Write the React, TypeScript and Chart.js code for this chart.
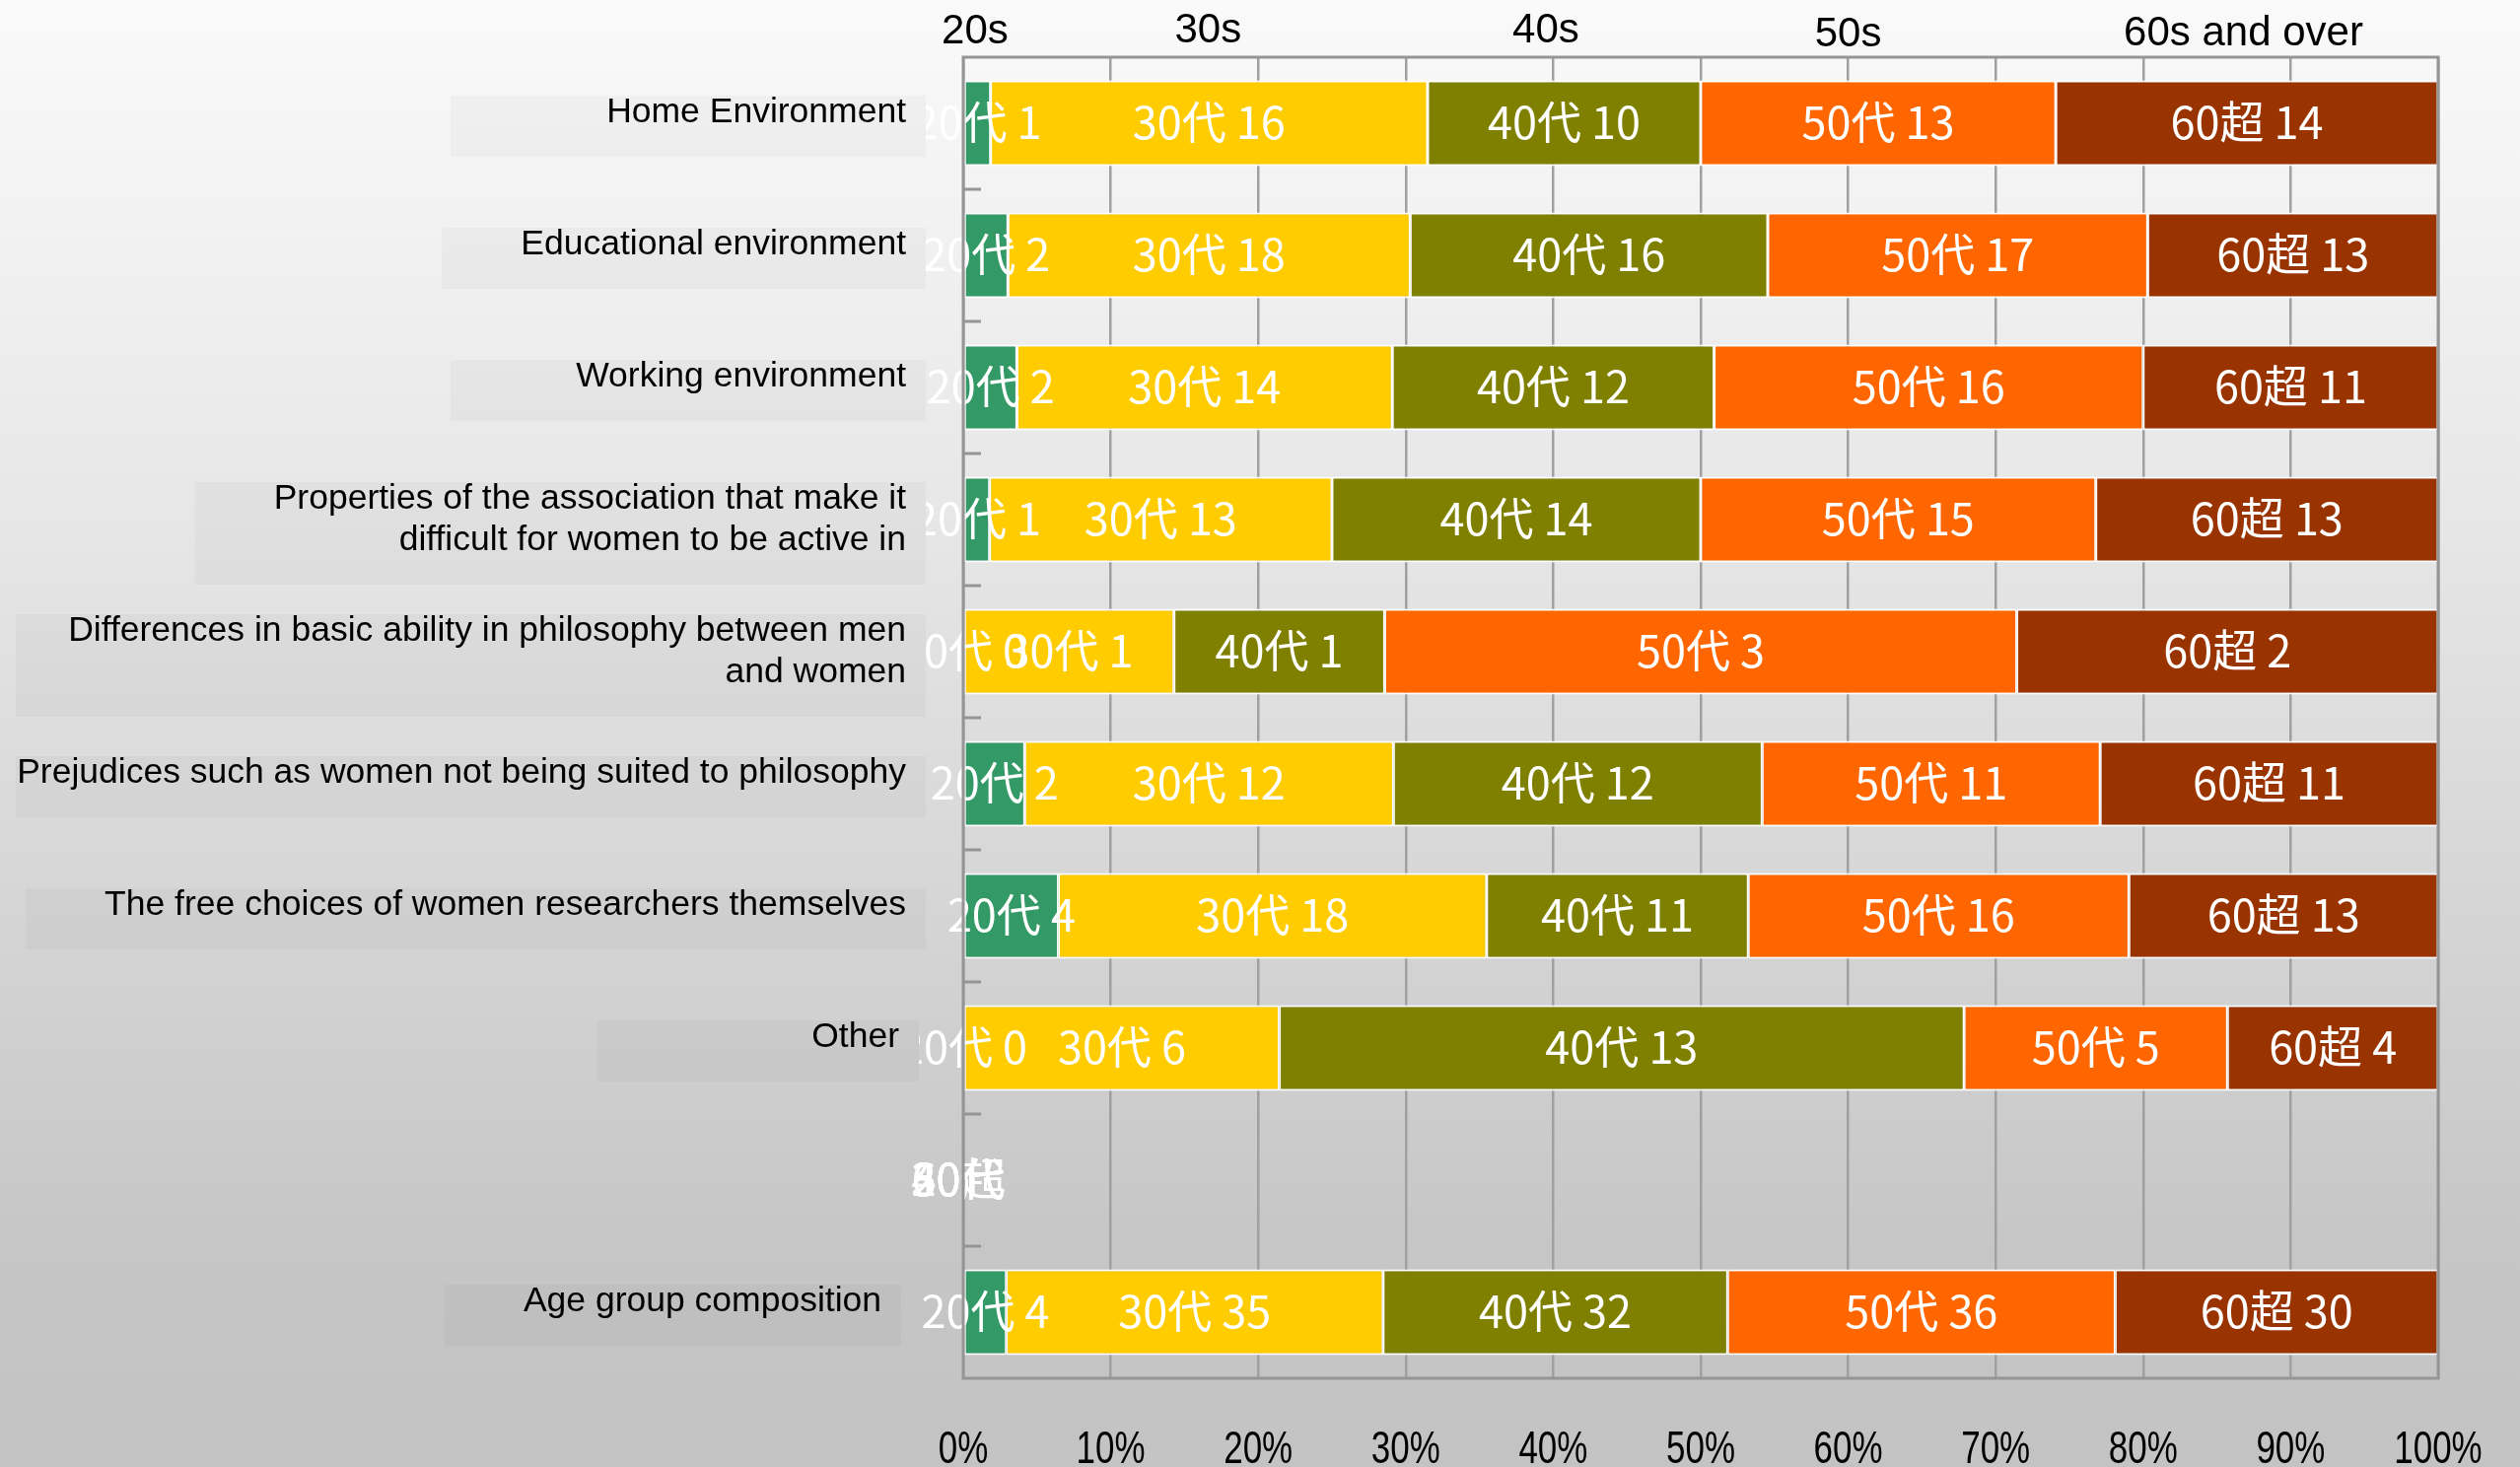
import React, { useEffect, useRef } from 'react';
import { Chart, registerables } from 'chart.js';

Chart.register(...registerables);

// ---------- data ----------
const categories: (string | string[])[] = [
  'Home Environment',
  'Educational environment',
  'Working environment',
  ['Properties of the association that make it', 'difficult for women to be active in'],
  ['Differences in basic ability in philosophy between men', 'and women'],
  'Prejudices such as women not being suited to philosophy',
  'The free choices of women researchers themselves',
  'Other',
  '',
  'Age group composition',
];

const seriesNames = ['20代', '30代', '40代', '50代', '60超'];
const headerLabels = ['20s', '30s', '40s', '50s', '60s and over'];
const xTickValues = [0, 10, 20, 30, 40, 50, 60, 70, 80, 90, 100];

const age20s: (number | null)[] = [1, 2, 2, 1, 0, 2, 4, 0, null, 4];
const age30s: (number | null)[] = [16, 18, 14, 13, 1, 12, 18, 6, null, 35];
const age40s: (number | null)[] = [10, 16, 12, 14, 1, 12, 11, 13, null, 32];
const age50s: (number | null)[] = [13, 17, 16, 15, 3, 11, 16, 5, null, 36];
const age60s: (number | null)[] = [14, 13, 11, 13, 2, 11, 13, 4, null, 30];

const series = [age20s, age30s, age40s, age50s, age60s];

// ---------- styling / layout constants ----------
const colors = ['#339966', '#FFCC00', '#808000', '#FF6600', '#993300'];
const headerAtPercent = [0.8, 16.6, 39.5, 60.0, 86.8];
const headerYOffset = [0, -1, -1, 3, 2];
const labelBoxInset = [0, 0, 0, 0, 0, 0, 0, 7, 0, 25];
const labelBoxMinWidth = [482, 482, 482, 482, 482, 482, 482, 326, 482, 435];

const W = 2556;
const H = 1488;

function makeBg(ctx: CanvasRenderingContext2D) {
  const g = ctx.createLinearGradient(0, 0, 0, H);
  g.addColorStop(0, '#fafafa');
  g.addColorStop(0.35, '#e7e7e7');
  g.addColorStop(0.85, '#c6c6c6');
  g.addColorStop(1, '#c3c3c3');
  return g;
}

// percentages table built from the series
const totals = categories.map((_, i) =>
  series.reduce((s, arr) => s + (arr[i] ?? 0), 0)
);
const pctSeries = series.map((arr) =>
  arr.map((v, i) => (v == null || totals[i] === 0 ? null : (v / totals[i]) * 100))
);

const decorPlugin = {
  id: 'decor',
  beforeDraw(chart: any) {
    const ctx = chart.ctx as CanvasRenderingContext2D;
    ctx.save();
    ctx.fillStyle = makeBg(ctx);
    ctx.fillRect(0, 0, chart.width, chart.height);
    ctx.restore();
  },
  afterDatasetsDraw(chart: any) {
    const ctx = chart.ctx as CanvasRenderingContext2D;
    const xs = chart.scales.x;
    const ys = chart.scales.y;
    ctx.save();
    ctx.font = '45px "Noto Sans CJK JP", sans-serif';
    ctx.fillStyle = '#ffffff';
    ctx.textAlign = 'center';
    ctx.textBaseline = 'middle';
    chart.data.datasets.forEach((_ds: any, di: number) => {
      const meta = chart.getDatasetMeta(di);
      meta.data.forEach((el: any, i: number) => {
        const raw = series[di][i];
        const cy = ys.getPixelForValue(i);
        let cx: number;
        if (raw == null || pctSeries[di][i] == null) {
          cx = xs.getPixelForValue(0);
        } else {
          const p = el.getProps(['x', 'base'], true);
          cx = (p.x + p.base) / 2;
        }
        ctx.fillText(`${seriesNames[di]} ${raw == null ? '' : raw}`, cx, cy - 1);
      });
    });
    ctx.restore();
  },
  afterDraw(chart: any) {
    const ctx = chart.ctx as CanvasRenderingContext2D;
    const xs = chart.scales.x;
    const ys = chart.scales.y;
    const area = chart.chartArea;
    ctx.save();

    // plot border
    ctx.strokeStyle = '#959595';
    ctx.lineWidth = 3;
    ctx.strokeRect(area.left, area.top, area.right - area.left, area.bottom - area.top);

    // inner tick marks on category boundaries
    ctx.beginPath();
    for (let i = 1; i < categories.length; i++) {
      const yb = (ys.getPixelForValue(i - 1) + ys.getPixelForValue(i)) / 2;
      ctx.moveTo(area.left, yb);
      ctx.lineTo(area.left + 18, yb);
    }
    ctx.stroke();

    // category label boxes and labels
    const bg = makeBg(ctx);
    const lh = 42;
    ctx.font = '35.5px "Liberation Sans", Arial, sans-serif';
    categories.forEach((c, i) => {
      const lines = Array.isArray(c) ? c : [c];
      if (lines.length === 0 || lines.every((l) => !l)) return;
      const cy = ys.getPixelForValue(i);
      const firstY = cy - ((lines.length - 1) / 2) * lh - (lines.length === 1 ? 11 : 0);
      const lastY = firstY + (lines.length - 1) * lh;
      const maxW = Math.max(...lines.map((l) => ctx.measureText(l).width));
      const right = area.left - 38 - labelBoxInset[i];
      const textRight = right - 20;
      const left = Math.max(16, Math.min(right - labelBoxMinWidth[i], textRight - maxW - 80));
      const top = firstY - 17;
      const bottom = lastY + 45;
      ctx.fillStyle = bg;
      ctx.fillRect(left, top, right - left, bottom - top);
      ctx.fillStyle = 'rgba(0,0,0,0.028)';
      ctx.fillRect(left, top, right - left, bottom - top);
      ctx.fillStyle = '#000000';
      ctx.textAlign = 'right';
      ctx.textBaseline = 'middle';
      lines.forEach((l, k) => ctx.fillText(l, textRight, firstY + k * lh));
    });

    // header labels
    ctx.font = '42px "Liberation Sans", Arial, sans-serif';
    ctx.fillStyle = '#000000';
    ctx.textAlign = 'center';
    ctx.textBaseline = 'middle';
    headerLabels.forEach((h, k) => {
      ctx.fillText(h, xs.getPixelForValue(headerAtPercent[k]), 32 + headerYOffset[k]);
    });

    // x tick labels (condensed)
    ctx.font = '46px "Liberation Sans", Arial, sans-serif';
    xTickValues.forEach((v) => {
      const px = xs.getPixelForValue(v);
      ctx.save();
      ctx.translate(px, 1471);
      ctx.scale(0.76, 1);
      ctx.fillText(`${v}%`, 0, 0);
      ctx.restore();
    });

    ctx.restore();
  },
};

export default function App() {
  const ref = useRef<HTMLCanvasElement | null>(null);
  useEffect(() => {
    if (!ref.current) return;
    const chart = new Chart(ref.current, {
      type: 'bar',
      data: {
        labels: categories as any,
        datasets: pctSeries.map((d, k) => ({
          label: seriesNames[k],
          data: d,
          backgroundColor: colors[k],
          borderColor: '#ffffff',
          borderWidth: { top: 2, bottom: 2, left: 1.5, right: 1.5 },
          borderSkipped: false,
          barPercentage: 1,
          categoryPercentage: 0.65,
        })),
      },
      options: {
        indexAxis: 'y',
        animation: false,
        responsive: false,
        devicePixelRatio: 1,
        layout: { padding: { left: 977, top: 58, right: 83, bottom: 90 } },
        plugins: {
          legend: { display: false },
          tooltip: { enabled: false },
          title: { display: false },
        },
        scales: {
          x: {
            stacked: true,
            min: 0,
            max: 100,
            ticks: { display: false, stepSize: 10 },
            grid: { color: '#a0a0a0', lineWidth: 2.5, drawTicks: false },
            border: { display: false },
          },
          y: {
            stacked: true,
            display: false,
          },
        },
      },
      plugins: [decorPlugin],
    });
    return () => chart.destroy();
  }, []);
  return (
    <div style={{ position: 'fixed', left: 0, top: 0, width: W, height: H }}>
      <canvas ref={ref} width={W} height={H} style={{ display: 'block', width: W, height: H }} />
    </div>
  );
}
